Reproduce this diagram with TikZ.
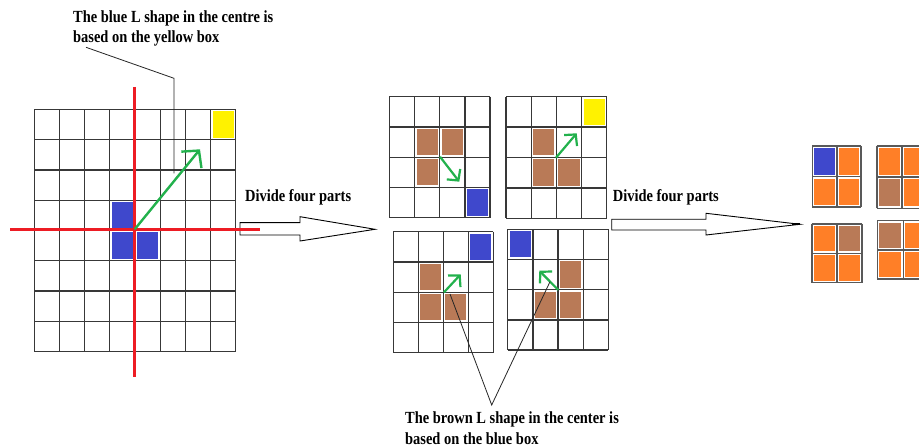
\documentclass[tikz,border=0pt]{standalone}
\usepackage{fontspec}
\setmainfont{Liberation Serif}[FakeStretch=0.85]
\usetikzlibrary{arrows.meta}
\definecolor{pblue}{RGB}{63,72,204}
\definecolor{pyellow}{RGB}{255,242,0}
\definecolor{pbrown}{RGB}{185,122,87}
\definecolor{porange}{RGB}{255,127,39}
\definecolor{pgreen}{RGB}{34,177,76}
\definecolor{pred}{RGB}{237,28,36}

% grid of n x n cells: style, x0, y0, cell width, cell height, n
\newcommand\cellgrid[6]{%
  \foreach \k in {0,...,#6}{%
    \draw[#1] ({#2+\k*#4},#3) -- ({#2+\k*#4},{#3+#6*#5});
    \draw[#1] (#2,{#3+\k*#5}) -- ({#2+#6*#4},{#3+\k*#5});
  }}
% coloured square inside one cell: colour, x0, y0, cell width, cell height, column, row
\newcommand\paintcell[7]{%
  \fill[#1] ({#2+#6*#4+2},{#3+#7*#5+2}) rectangle ({#2+(#6+1)*#4-2},{#3+(#7+1)*#5-2});}

\begin{document}
\begin{tikzpicture}[x=1pt,y=-1pt,
  gridline/.style={draw=black!78,line width=1.3pt},
  smallgrid/.style={draw=black!65,line width=1.6pt},
  label/.style={font=\fontsize{17}{20}\selectfont\bfseries,inner sep=0pt,anchor=base west},
  callout/.style={draw=black!85,line width=0.8pt},
  redline/.style={draw=pred,line width=2.5pt},
  bigarrow/.style={draw=pgreen,line width=2.4pt,-{Straight Barb[length=12pt,width=26pt]}},
  smallarrow/.style={draw=pgreen,line width=2.2pt,-{Straight Barb[length=8pt,width=17pt]}},
  blockarrow/.style={draw=black,fill=white,line width=0.9pt,line join=miter}]
\useasboundingbox (0,0) rectangle (919,446);
\fill[white] (0,0) rectangle (919,446);

% ---- large 8x8 grid ----
\cellgrid{gridline}{34.3}{109.3}{25.18}{30.3}{8}
\paintcell{pyellow}{34.3}{109.3}{25.18}{30.3}{7}{0}
\paintcell{pblue}{34.3}{109.3}{25.18}{30.3}{3}{3}
\paintcell{pblue}{34.3}{109.3}{25.18}{30.3}{3}{4}
\paintcell{pblue}{34.3}{109.3}{25.18}{30.3}{4}{4}

% ---- first block arrow ----
\draw[blockarrow] (240,222.7) -- (300,222.7) -- (300,216.7) -- (375,229.3)
  -- (300,241) -- (300,235) -- (240,235) -- cycle;

% red dividing lines
\draw[redline] (134.7,87) -- (134.7,377);
\draw[redline] (10,229.3) -- (260,229.3);
\draw[bigarrow] (134.7,229.3) -- (200,149.3);

% callout for the large grid
\coordinate (c1a) at (86,47.3);
\coordinate (c1b) at (174,78.3);
\coordinate (c1c) at (174,173.3);
\draw[callout] (c1a) -- (c1b) -- (c1c);
\node[label] (t1a) at (73,22.3) {The blue L shape in the centre is};
\node[label] (t1b) at (73,42.3) {based on the yellow box};

\node[label] (d1) at (245,201.7) {Divide four parts};

% ---- four 4x4 quarters ----
% top left
\cellgrid{gridline}{389.3}{96.7}{25.2}{30.25}{4}
\paintcell{pbrown}{389.3}{96.7}{25.2}{30.25}{1}{1}
\paintcell{pbrown}{389.3}{96.7}{25.2}{30.25}{2}{1}
\paintcell{pbrown}{389.3}{96.7}{25.2}{30.25}{1}{2}
\paintcell{pblue}{389.3}{96.7}{25.2}{30.25}{3}{3}
\draw[smallarrow] (440,156.7) -- (459.3,181.7);
% top right
\cellgrid{gridline}{506}{96.7}{25.2}{30.4}{4}
\paintcell{pyellow}{506}{96.7}{25.2}{30.4}{3}{0}
\paintcell{pbrown}{506}{96.7}{25.2}{30.4}{1}{1}
\paintcell{pbrown}{506}{96.7}{25.2}{30.4}{1}{2}
\paintcell{pbrown}{506}{96.7}{25.2}{30.4}{2}{2}
\draw[smallarrow] (556,157.7) -- (576.7,133.3);
% bottom left
\cellgrid{gridline}{393.3}{231.7}{25}{30.25}{4}
\paintcell{pblue}{393.3}{231.7}{25}{30.25}{3}{0}
\paintcell{pbrown}{393.3}{231.7}{25}{30.25}{1}{1}
\paintcell{pbrown}{393.3}{231.7}{25}{30.25}{1}{2}
\paintcell{pbrown}{393.3}{231.7}{25}{30.25}{2}{2}
\draw[smallarrow] (444,292.3) -- (460.7,274.3);
% bottom right
\cellgrid{gridline}{507.7}{229.3}{25.15}{30.2}{4}
\paintcell{pblue}{507.7}{229.3}{25.15}{30.2}{0}{0}
\paintcell{pbrown}{507.7}{229.3}{25.15}{30.2}{2}{1}
\paintcell{pbrown}{507.7}{229.3}{25.15}{30.2}{1}{2}
\paintcell{pbrown}{507.7}{229.3}{25.15}{30.2}{2}{2}
\draw[smallarrow] (558.3,290) -- (539.3,270.7);

% callout for the quarters
\coordinate (c2a) at (450,294);
\coordinate (c2b) at (550,281.7);
\coordinate (c2c) at (491.7,405);
\draw[callout] (c2a) -- (c2c) -- (c2b);
\node[label] (t2a) at (405,424) {The brown L shape in the center is};
\node[label] (t2b) at (405,444) {based on the blue box};

% ---- second block arrow ----
\draw[blockarrow] (611.7,219.3) -- (706,219.3) -- (706,213.3) -- (800,224.3)
  -- (706,235) -- (706,230) -- (611.7,230) -- cycle;
\draw[line width=2pt] (792,224.3) -- (800,224.3);
\node[label] (d2) at (612.7,201.7) {Divide four parts};

% ---- four 2x2 results ----
\paintcell{pblue}{812.3}{146}{24.4}{30.65}{0}{0}
\paintcell{porange}{812.3}{146}{24.4}{30.65}{1}{0}
\paintcell{porange}{812.3}{146}{24.4}{30.65}{0}{1}
\paintcell{porange}{812.3}{146}{24.4}{30.65}{1}{1}
\cellgrid{smallgrid}{812.3}{146}{24.4}{30.65}{2}

\paintcell{porange}{876.7}{146}{25}{31.2}{0}{0}
\paintcell{porange}{876.7}{146}{25}{31.2}{1}{0}
\paintcell{pbrown}{876.7}{146}{25}{31.2}{0}{1}
\paintcell{porange}{876.7}{146}{25}{31.2}{1}{1}
\cellgrid{smallgrid}{876.7}{146}{25}{31.2}{2}

\paintcell{porange}{811.7}{224}{25}{29.35}{0}{0}
\paintcell{pbrown}{811.7}{224}{25}{29.35}{1}{0}
\paintcell{porange}{811.7}{224}{25}{29.35}{0}{1}
\paintcell{porange}{811.7}{224}{25}{29.35}{1}{1}
\cellgrid{smallgrid}{811.7}{224}{25}{29.35}{2}

\paintcell{pbrown}{877.3}{220.7}{26}{29.3}{0}{0}
\paintcell{porange}{877.3}{220.7}{26}{29.3}{1}{0}
\paintcell{porange}{877.3}{220.7}{26}{29.3}{0}{1}
\paintcell{porange}{877.3}{220.7}{26}{29.3}{1}{1}
\cellgrid{smallgrid}{877.3}{220.7}{26}{29.3}{2}
\end{tikzpicture}
\end{document}
